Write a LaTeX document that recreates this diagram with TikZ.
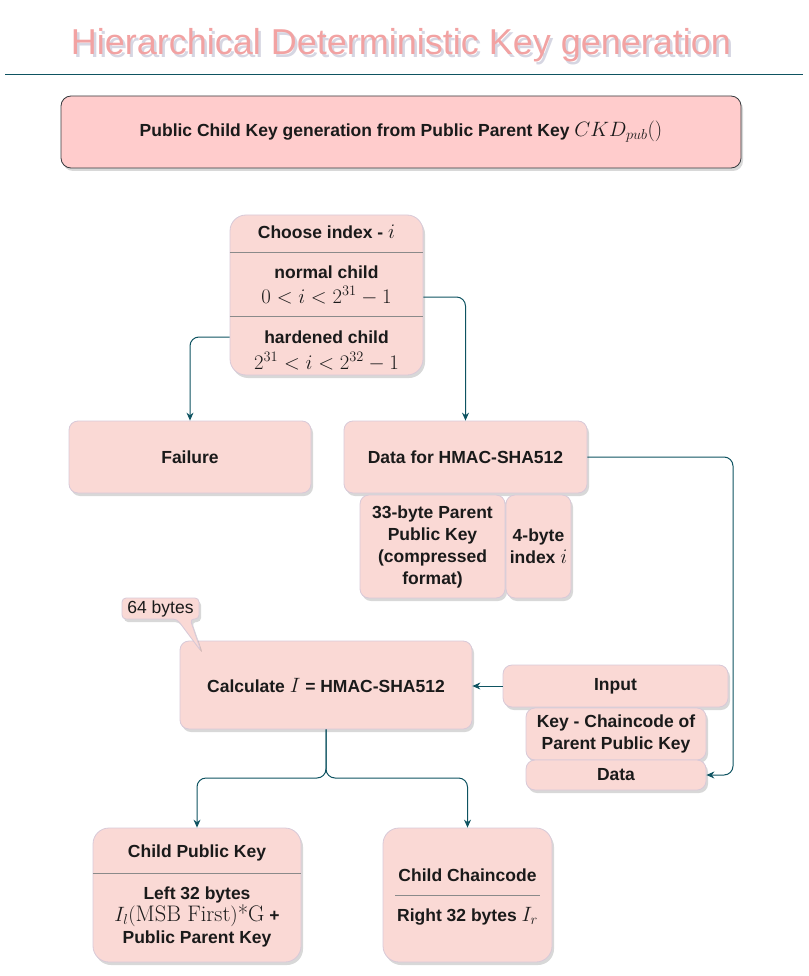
\documentclass[tikz,border=0pt]{standalone}
\usepackage{fontspec}
\setsansfont{Liberation Sans}
\usetikzlibrary{shadows,arrows.meta}
\definecolor{boxfill}{HTML}{FAD9D5}
\definecolor{boxline}{HTML}{D8C9D8}
\definecolor{topfill}{HTML}{FFCCCC}
\definecolor{topline}{HTML}{36393D}
\definecolor{edgec}{HTML}{0E5361}
\definecolor{titlec}{HTML}{F2A2A2}
\definecolor{txt}{HTML}{1A1A1A}
\definecolor{sepc}{HTML}{8A8A8A}
\newcommand\mth[1]{{\fontsize{22.5}{22}\selectfont$#1$}}
\begin{document}
\begin{tikzpicture}[x=1pt,y=-1pt,
  every node/.style={font=\sffamily\bfseries\fontsize{17.5}{22}\selectfont, text=txt, align=center},
  shadowed/.style={drop shadow={shadow xshift=2pt,shadow yshift=-3pt,opacity=0.22,fill=black!70}},
  box/.style={draw=boxline, fill=boxfill, rounded corners=9pt, line width=0.8pt, inner sep=0pt, shadowed},
  topbox/.style={draw=topline, fill=topfill, rounded corners=10pt, line width=0.8pt, inner sep=0pt, shadowed},
  sepline/.style={draw=sepc, line width=0.7pt},
  edge/.style={draw=edgec, line width=1pt, rounded corners=9pt, -{Stealth[length=8pt,width=7pt]}},
  plain/.style={font=\sffamily\fontsize{17.5}{22}\selectfont},
  titlefont/.style={font=\sffamily\fontsize{36}{40}\selectfont, anchor=base}
]
\useasboundingbox (0,0) rectangle (808,976);

% title
\node[titlefont, text=blue!30!black, opacity=0.16] (titlesh) at (403.5,58) {Hierarchical Deterministic Key generation};
\node[titlefont, text=titlec] (title) at (401,54.5) {Hierarchical Deterministic Key generation};
\draw[edgec, line width=1pt] (5,75) -- (803,75);

% header box
\node[topbox, minimum width=680pt, minimum height=72pt] (head) at (401,132) {Public Child Key generation from Public Parent Key \mth{CKD_{pub}()}};

% choose index
\node[box, rounded corners=16pt, minimum width=193pt, minimum height=160pt] (ci) at (326.5,295) {};
\draw[sepline] (ci.west |- 0,252) -- (ci.east |- 0,252);
\draw[sepline] (ci.west |- 0,316) -- (ci.east |- 0,316);
\node (cit) at (326.5,232) {Choose index - \mth{i}};
\node (nrm) at (326.5,272) {normal child};
\node (nrmm) at (326.5,295.5) {\mth{0 < i < 2^{31}-1}};
\node (hrd) at (326.5,337) {hardened child};
\node (hrdm) at (326.5,361.5) {\mth{2^{31} < i < 2^{32}-1}};

% failure and data
\node[box, minimum width=242pt, minimum height=72pt] (fail) at (190,457) {Failure};
\node[box, minimum width=243pt, minimum height=72pt] (data) at (465.5,457) {Data for HMAC-SHA512};
\node[box, minimum width=145pt, minimum height=103pt] (sub1) at (432.5,546.5) {33-byte Parent\\Public Key\\(compressed\\format)};
\node[box, minimum width=65pt, minimum height=103pt] (sub2) at (538.5,546.5) {4-byte\\index \mth{i}};

\draw[edge] (ci.east |- 0,297) -| (data.north);
\draw[edge] (ci.west |- 0,337) -| (fail.north);

% calculate
\node[box, minimum width=292pt, minimum height=88pt] (calc) at (326,685) {Calculate \mth{I} = HMAC-SHA512};
\node[box, minimum width=225pt, minimum height=42pt] (inp) at (615.5,686) {Input};
\node[box, minimum width=180pt, minimum height=52pt] (key) at (616,734) {Key - Chaincode of\\Parent Public Key};
\node[box, minimum width=180pt, minimum height=30pt] (dsm) at (616,775) {Data};

\draw[edge] (inp.west) -- (calc.east |- inp.west);
\draw[edge] (data.east) -- (733,457) |- (dsm.east);

% callout
\draw[draw=boxline, fill=boxfill, line width=0.8pt, rounded corners=4pt, shadowed]
  (122,598) -- (199,598) -- (199,619) -- (190,619) -- (201,651) -- (177,619) -- (122,619) -- cycle;
\node[plain] (cb) at (160.5,608.5) {64 bytes};

% children
\node[box, rounded corners=16pt, minimum width=208pt, minimum height=134pt] (cpk) at (197,895) {};
\draw[sepline] (cpk.west |- 0,873) -- (cpk.east |- 0,873);
\node (cpkt) at (197,853) {Child Public Key};
\node (cpkb) at (197,917) {Left 32 bytes\\\mth{I_l(\mathrm{MSB\ First})}{\fontsize{22.5}{22}\rmfamily\mdseries\selectfont *G} +\\Public Parent Key};

\node[box, rounded corners=16pt, minimum width=169pt, minimum height=134pt] (ccc) at (467.5,895) {};
\draw[sepline] (395,895) -- (540,895);
\node (ccct) at (467.5,875) {Child Chaincode};
\node (cccb) at (467.5,916) {Right 32 bytes \mth{I_r}};

\draw[edge] (calc.south) -- (calc.south |- 0,778) -- (cpk.north |- 0,778) -- (cpk.north);
\draw[edge] (calc.south) -- (calc.south |- 0,778) -- (ccc.north |- 0,778) -- (ccc.north);
\end{tikzpicture}
\end{document}
